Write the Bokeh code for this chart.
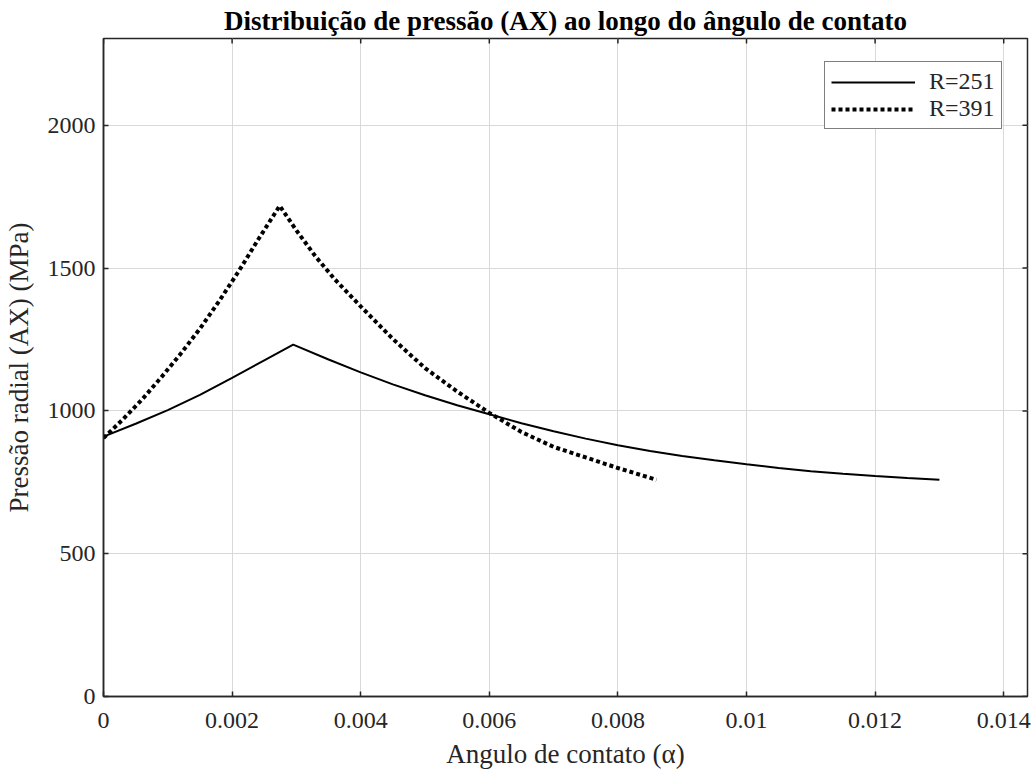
import math
from bokeh.plotting import figure
from bokeh.models import Range1d, FixedTicker, CustomJSTickFormatter, Legend, LegendItem
from bokeh.embed import file_html
from bokeh.resources import INLINE

# ---- data ----
x_r251 = [0.0, 0.0005, 0.0010, 0.0015, 0.0020, 0.0025, 0.00295, 0.0035, 0.0040,
          0.0045, 0.0050, 0.0055, 0.0060, 0.0065, 0.0070, 0.0075, 0.0080, 0.0085,
          0.0090, 0.0095, 0.0100, 0.0105, 0.0110, 0.0115, 0.0120, 0.0125, 0.0130]
y_r251 = [910, 955, 1003, 1056, 1116, 1177, 1232, 1180, 1135,
          1093, 1055, 1020, 988, 957, 929, 903, 880, 860,
          842, 827, 813, 800, 789, 780, 772, 765, 759]

x_r391 = [0.0, 0.0003, 0.0006, 0.0009, 0.0012, 0.0015, 0.0018, 0.0021, 0.0024, 0.00274,
          0.0030, 0.0033, 0.0036, 0.0040, 0.0045, 0.0050, 0.0055, 0.0060, 0.0065,
          0.0070, 0.0075, 0.0080, 0.0086]
y_r391 = [905, 970, 1040, 1118, 1200, 1288, 1385, 1488, 1598, 1718,
          1632, 1540, 1460, 1366, 1252, 1150, 1068, 993, 926,
          874, 837, 800, 759]

series_labels = ["R=251", "R=391"]
x_ticks = [0, 0.002, 0.004, 0.006, 0.008, 0.01, 0.012, 0.014]
y_ticks = [0, 500, 1000, 1500, 2000]
x_max = 0.01437
y_max = 2304

title_text = "Distribuição de pressão (AX) ao longo do ângulo de contato"
x_label = "Angulo de contato (α)"
y_label = "Pressão radial (AX) (MPa)"

FONT = "Liberation Serif"
DARK = "#262626"

p = figure(width=1036, height=771, output_backend="svg", toolbar_location=None,
           x_range=Range1d(0, x_max), y_range=Range1d(0, y_max),
           min_border_left=103, min_border_right=9, min_border_top=38,
           min_border_bottom=74)

p.title.text = title_text
p.title.align = "center"
p.title.text_font = FONT
p.title.text_font_size = "27px"
p.title.text_font_style = "bold"
p.title.text_line_height = 1.0
p.title.text_color = "black"
p.title.standoff = 5

for ax in (p.xaxis[0], p.yaxis[0]):
    ax.axis_line_color = DARK
    ax.axis_line_width = 1.5
    ax.major_tick_in = 5
    ax.major_tick_out = 0
    ax.major_tick_line_color = DARK
    ax.major_tick_line_width = 1.5
    ax.minor_tick_line_color = None
    ax.major_label_text_font = FONT
    ax.major_label_text_font_size = "24px"
    ax.major_label_text_line_height = 1.0
    ax.major_label_text_color = "#262626"
    ax.axis_label_text_font = FONT
    ax.axis_label_text_font_size = "27px"
    ax.axis_label_text_line_height = 1.0
    ax.axis_label_text_font_style = "normal"
    ax.axis_label_text_color = "#262626"

p.xaxis.ticker = FixedTicker(ticks=x_ticks)
p.xaxis.formatter = CustomJSTickFormatter(code="return parseFloat(tick.toFixed(4)).toString();")
p.xaxis.axis_label = x_label
p.xaxis.major_label_standoff = 16
p.xaxis.axis_label_standoff = 8

p.yaxis.ticker = FixedTicker(ticks=y_ticks)
p.yaxis.axis_label = y_label
p.yaxis.major_label_standoff = 8
p.yaxis.axis_label_standoff = 11

p.xgrid.ticker = FixedTicker(ticks=x_ticks)
p.ygrid.ticker = FixedTicker(ticks=y_ticks)
p.grid.grid_line_color = "#d9d9d9"
p.grid.grid_line_width = 1

p.outline_line_color = DARK
p.outline_line_width = 1.5
p.background_fill_color = "white"
p.border_fill_color = "white"

# inward ticks on top and right edges
p.ray(x=x_ticks, y=[y_max] * len(x_ticks), length=5, length_units="screen",
      angle=-math.pi / 2, line_color=DARK, line_width=1.5)
p.ray(x=[x_max] * len(y_ticks), y=y_ticks, length=5, length_units="screen",
      angle=math.pi, line_color=DARK, line_width=1.5)

r1 = p.line(x_r251, y_r251, line_color="black", line_width=2)
r2 = p.line(x_r391, y_r391, line_color="black", line_width=4, line_dash="4 3")

legend = Legend(items=[LegendItem(label=series_labels[0], renderers=[r1]),
                       LegendItem(label=series_labels[1], renderers=[r2])],
                location=(721, 567))
legend.border_line_color = "black"
legend.border_line_width = 1.5
legend.background_fill_color = "white"
legend.background_fill_alpha = 1
legend.label_text_font = FONT
legend.label_text_font_size = "24px"
legend.label_text_color = "#262626"
legend.glyph_width = 84
legend.glyph_height = 22
legend.label_height = 22
legend.spacing = 0
legend.padding = 6
legend.margin = 0
legend.label_standoff = 14
p.add_layout(legend)

open("out.html", "w").write(file_html(p, INLINE))
